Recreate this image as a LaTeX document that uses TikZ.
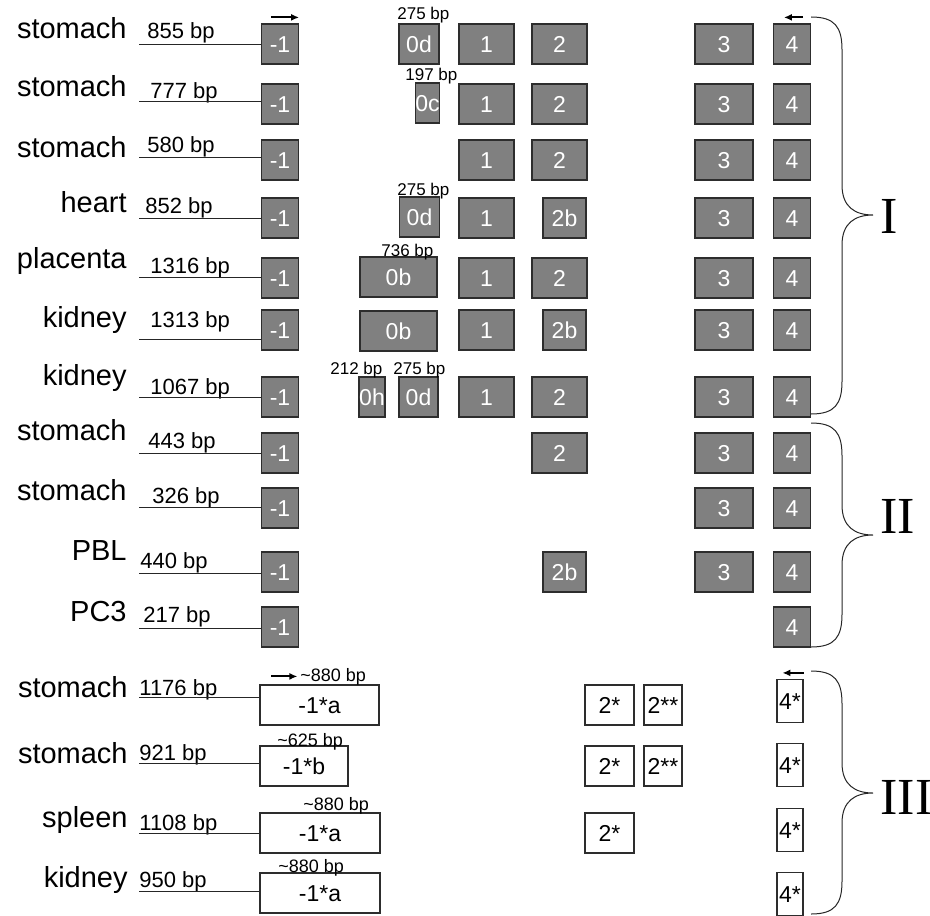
\documentclass[tikz,border=0pt]{standalone}
\usepackage{fontspec}
\setmainfont{Liberation Sans}
\newfontfamily\romanfont{Liberation Serif}
\usetikzlibrary{arrows.meta, calc}
\definecolor{exonfill}{RGB}{128,128,128}
\definecolor{exonedge}{RGB}{45,45,45}

\begin{document}
\begin{tikzpicture}[x=0.5pt, y=-0.5pt,
  exon/.style={draw=exonedge, fill=exonfill, text=white, line width=0.6pt, inner sep=0pt,
    minimum height=20pt, minimum width=#1, text height=8.3pt, text depth=0pt,
    font=\fontsize{11.5}{12}\selectfont},
  newexon/.style={draw=exonedge, fill=white, text=black, line width=0.6pt, inner sep=0pt,
    minimum height=20pt, minimum width=#1, text height=8.3pt, text depth=0pt,
    font=\fontsize{11.5}{12}\selectfont},
  tissue/.style={anchor=base east, inner sep=0pt, font=\fontsize{14.5}{16}\selectfont},
  bplabel/.style={anchor=base west, inner sep=0pt, font=\fontsize{11}{12}\selectfont},
  sizelabel/.style={anchor=base west, inner sep=0pt, font=\fontsize{8.5}{9}\selectfont},
  intron/.style={line width=0.5pt, black!85},
  tss/.style={line width=1pt, -{Latex[length=4pt, width=3.5pt]}},
  bracket/.style={line width=0.5pt, black!85},
  group/.style={anchor=west, inner sep=0pt, font=\romanfont\fontsize{26}{28}\selectfont}]
\useasboundingbox (0,0) rectangle (930,915);

% transcripts starting at exon -1
\foreach \r/\tis/\ty/\bp/\bx/\by/\ly/\my in {1/stomach/39/855/147/39/45/44,
  2/stomach/97/777/150/98/102/104, 3/stomach/157/580/147/152/157/160,
  4/heart/212/852/145/213/218/218, 5/placenta/268/1316/150/273/277/278,
  6/kidney/327/1313/150/327/339/330, 7/kidney/385/1067/150/394/397/397,
  8/stomach/440/443/148/448/453/453, 9/stomach/500/326/152/503/507/508,
  10/PBL/560/440/140/568/573/572, 11/PC3/621/217/143/622/628/627}{
  \node[tissue] (t\r) at (127,\ty) {\tis};
  \node[bplabel] (b\r) at (\bx,\by) {\bp\ bp};
  \node[exon=18.5pt] (m\r) at (280,\my) {-1};
  \coordinate (s\r) at (139,\ly);
  \draw[intron] (s\r) -- (s\r -| m\r.west);
}

% exon 0 variants
\node[exon=20pt] (z1) at (419,44) {0d};
\node[exon=11.5pt] (z2) at (427.5,103) {0c};
\node[exon=20pt] (z4) at (419.5,217) {0d};
\node[exon=38.5pt] (z5) at (398.5,277) {0b};
\node[exon=38.5pt] (z6) at (398.5,331) {0b};
\node[exon=13pt] (h7) at (372,397) {0h};
\node[exon=19.5pt] (z7) at (418.5,397) {0d};
\node[sizelabel] (l1) at (397,20) {275 bp};
\node[sizelabel] (l2) at (405,81) {197 bp};
\node[sizelabel] (l4) at (397,195) {275 bp};
\node[sizelabel] (l5) at (381,256) {736 bp};
\node[sizelabel] (l7h) at (330,374) {212 bp};
\node[sizelabel] (l7) at (393,374) {275 bp};

% exons 1 to 4
\foreach \r in {1,...,7} \node[exon=27.5pt] (a\r) at (486.5,0 |- m\r) {1};
\foreach \r in {1,2,3,5,7,8} \node[exon=27.5pt] (c\r) at (559.5,0 |- m\r) {2};
\foreach \r in {4,6,10} \node[exon=21.5pt] (c\r) at (564.5,0 |- m\r) {2b};
\foreach \r in {1,...,10} \node[exon=29pt] (d\r) at (724,0 |- m\r) {3};
\foreach \r in {1,...,11} \node[exon=18.5pt] (f\r) at (792,0 |- m\r) {4};
\draw[tss] ([shift={(10,-6)}]m1.north west) -- ([shift={(0,-6)}]m1.north east);
\draw[tss] ([shift={(-8,-6)}]f1.north east) -- ([shift={(11,-6)}]f1.north west);

% transcripts starting at exon -1*
\foreach \r/\tis/\ty/\bp/\by/\ly/\my/\cx/\w/\lab in {12/stomach/697/1176/695/697/705/319.5/59.5pt/a,
  13/stomach/763/921/760/763/766/304/44pt/b, 14/spleen/827/1108/830/833/833/320/60pt/a,
  15/kidney/887/950/887/891/893/320/60pt/a}{
  \node[tissue] (t\r) at (128,\ty) {\tis};
  \node[bplabel] (b\r) at (139,\by) {\bp\ bp};
  \node[newexon=\w] (m\r) at (\cx,\my) {-1*\lab};
  \coordinate (s\r) at (139,\ly);
  \draw[intron] (s\r) -- (s\r -| m\r.west);
}
\foreach \r/\sx/\sy/\sz in {12/300/681/880, 13/277/746/625, 14/303/810/880, 15/278/872/880}
  \node[sizelabel, font=\fontsize{9}{10}\selectfont] (l\r) at (\sx,\sy) {\textasciitilde\sz\ bp};
\foreach \r in {12,13,14} \node[newexon=24.5pt] (c\r) at (609.5,0 |- m\r) {2*};
\foreach \r in {12,13} \node[newexon=19pt] (g\r) at (663,0 |- m\r) {2**};
\foreach \r/\y in {12/701,13/765,14/830,15/894}
  \node[newexon=13pt, minimum height=21.5pt] (f\r) at (790,\y) {4*};
\draw[tss] ([shift={(12,-8)}]m12.north west) -- ([shift={(38,-8)}]m12.north west);
\draw[tss] ([shift={(0,-6)}]f12.north east) -- ([shift={(6,-6)}]f12.north west);

% groups
\foreach \ya/\ym/\yb/\yg/\grp in {17/215/414/216/I, 423/535/647/516/II, 671/793/914/797/III}{
  \draw[bracket] (811,\ya) .. controls (835,\ya) and (842,\ya+10) .. (842,\ya+33)
    -- (842,\ym-30) .. controls (842,\ym-8) and (855,\ym) .. (873,\ym)
    .. controls (855,\ym) and (842,\ym+8) .. (842,\ym+30)
    -- (842,\yb-33) .. controls (842,\yb-10) and (835,\yb) .. (811,\yb);
  \node[group] (g\grp) at (880,\yg) {\grp};
}
\end{tikzpicture}
\end{document}
